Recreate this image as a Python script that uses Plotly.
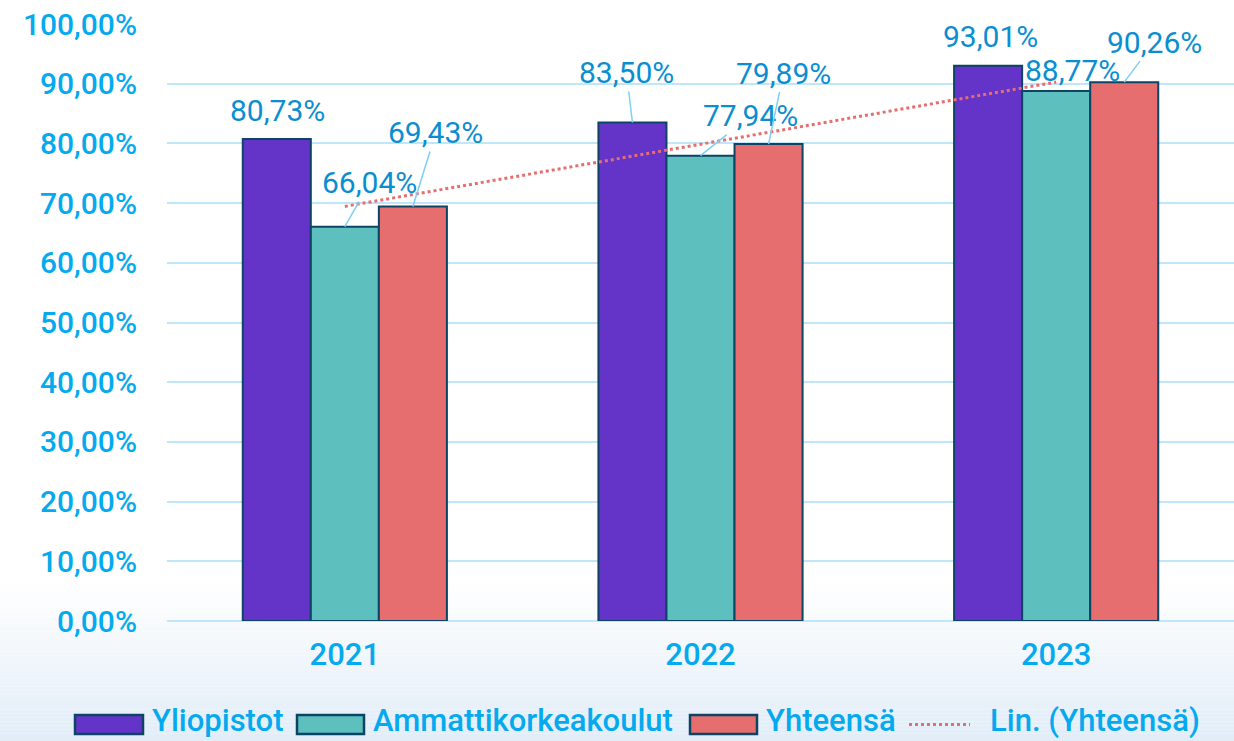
import numpy as np
import plotly.graph_objects as go

# ---- data ----
years = ["2021", "2022", "2023"]
yliopistot = [80.73, 83.50, 93.01]
ammattikorkeakoulut = [66.04, 77.94, 88.77]
yhteensa = [69.43, 79.89, 90.26]
series_names = ["Yliopistot", "Ammattikorkeakoulut", "Yhteensä"]
trend_name = "Lin. (Yhteensä)"
y_tick_values = [0, 10, 20, 30, 40, 50, 60, 70, 80, 90, 100]

# ---- style ----
colors = ["#6434C8", "#5DBFBE", "#E66E6E"]
outline = "#0D4466"
tick_color = "#05AAEE"
label_color = "#0A8ED0"
leader_color = "#7DD0F5"
grid_color = "#BFE6FA"
FONT = "Roboto"

W, H = 1234, 741
ML, MR, MT, MB = 167, 0, 24, 120
PW, PH = W - ML - MR, H - MT - MB
bargap = 0.426
bw = (1 - bargap) / 3


def fmt(v):
    return f"{v:.2f}".replace(".", ",") + "%"


fig = go.Figure()
all_series = [yliopistot, ammattikorkeakoulut, yhteensa]
for name, vals, col in zip(series_names, all_series, colors):
    fig.add_trace(go.Bar(
        x=years, y=vals, name=name, marker=dict(color=col, line=dict(color=outline, width=2)),
        showlegend=False,
    ))

# linear trendline of Yhteensä
xi = np.arange(len(years))
slope, intercept = np.polyfit(xi, yhteensa, 1)
trend = slope * xi + intercept
fig.add_trace(go.Scatter(
    x=years, y=trend, mode="lines", name=trend_name, showlegend=False,
    line=dict(color="#E66E6E", width=3, dash="dot"),
))

# data label placement (pixel offsets of label from bar top, leader line?)
label_offsets = [
    [(1, -29, False), (25, -44, True), (23, -74, True)],
    [(-6, -50, True), (50, -40, True), (15, -71, True)],
    [(2, -29, False), (16, -21, False), (30, -40, True)],
]
annotations = []
for i in range(len(years)):
    for j, vals in enumerate(all_series):
        ax, ay, arrow = label_offsets[i][j]
        x = i + (j - 1) * bw
        y = vals[i]
        common = dict(x=x, y=y, xref="x", yref="y", text=fmt(y),
                      font=dict(family=FONT, size=30, color=label_color))
        if arrow:
            annotations.append(dict(**common, showarrow=True, ax=ax, ay=ay,
                                    arrowhead=0, arrowwidth=1.5, arrowcolor=leader_color,
                                    standoff=0, startstandoff=0))
        else:
            annotations.append(dict(**common, showarrow=False, xshift=ax, yshift=-ay,
                                    yanchor="middle"))

# ---- background gradient (bottom) ----
shapes = []
def px2paper_x(px):
    return (px - ML) / PW
def px2paper_y(py):
    return (H - MB - py) / PH

g_top, g_bot = 585, H
n = 40
c0 = np.array([255, 255, 255])
c1 = np.array([226, 237, 248])
for k in range(n):
    t0 = g_top + (g_bot - g_top) * k / n
    t1 = g_top + (g_bot - g_top) * (k + 1) / n
    f = (k + 0.5) / n
    c = (c0 + (c1 - c0) * f).astype(int)
    shapes.append(dict(type="rect", xref="paper", yref="paper", layer="below",
                       x0=px2paper_x(0), x1=px2paper_x(W), y0=px2paper_y(t1), y1=px2paper_y(t0),
                       line=dict(width=0), fillcolor=f"rgb({c[0]},{c[1]},{c[2]})"))

# ---- manual legend ----
leg_text_y = 720
leg_sw_y0, leg_sw_y1 = 715, 734
leg_items = [
    ("rect", colors[0], 75, 143, series_names[0], 150),
    ("rect", colors[1], 297, 364, series_names[1], 371),
    ("rect", colors[2], 690, 757, series_names[2], 764),
    ("dot", "#E66E6E", 909, 970, trend_name, 988),
]
for kind, col, sx0, sx1, text, tx in leg_items:
    if kind == "rect":
        shapes.append(dict(type="rect", xref="paper", yref="paper",
                           x0=px2paper_x(sx0), x1=px2paper_x(sx1),
                           y0=px2paper_y(leg_sw_y1), y1=px2paper_y(leg_sw_y0),
                           fillcolor=col, line=dict(color=outline, width=2.5)))
    else:
        ly = (leg_sw_y0 + leg_sw_y1) / 2
        shapes.append(dict(type="line", xref="paper", yref="paper",
                           x0=px2paper_x(sx0), x1=px2paper_x(sx1),
                           y0=px2paper_y(ly), y1=px2paper_y(ly),
                           line=dict(color=col, width=3, dash="dot")))
    annotations.append(dict(x=px2paper_x(tx), y=px2paper_y(leg_text_y), xref="paper", yref="paper",
                            text=text, showarrow=False, xanchor="left", yanchor="middle",
                            font=dict(family=FONT, size=31, weight=500, color=tick_color)))

fig.update_layout(
    width=W, height=H,
    margin=dict(l=ML, r=MR, t=MT, b=MB),
    paper_bgcolor="white", plot_bgcolor="rgba(0,0,0,0)",
    barmode="group", bargap=bargap, bargroupgap=0,
    showlegend=False,
    shapes=shapes, annotations=annotations,
    font=dict(family=FONT),
)
fig.update_xaxes(
    type="category", showgrid=False, showline=False, zeroline=False,
    tickfont=dict(family=FONT, size=31, weight=500, color=tick_color), ticklabelstandoff=12,
)
fig.update_yaxes(
    range=[0, 100], tickvals=y_tick_values, ticktext=[fmt(v) for v in y_tick_values],
    showgrid=True, gridcolor=grid_color, gridwidth=2, zeroline=True,
    zerolinecolor=grid_color, zerolinewidth=2, showline=False,
    tickfont=dict(family=FONT, size=30, weight=500, color=tick_color), ticklabelstandoff=29,
)

fig.write_html("out.html", config={"displayModeBar": False},
               post_script="document.body.style.margin='0px';document.body.style.overflow='hidden';")
